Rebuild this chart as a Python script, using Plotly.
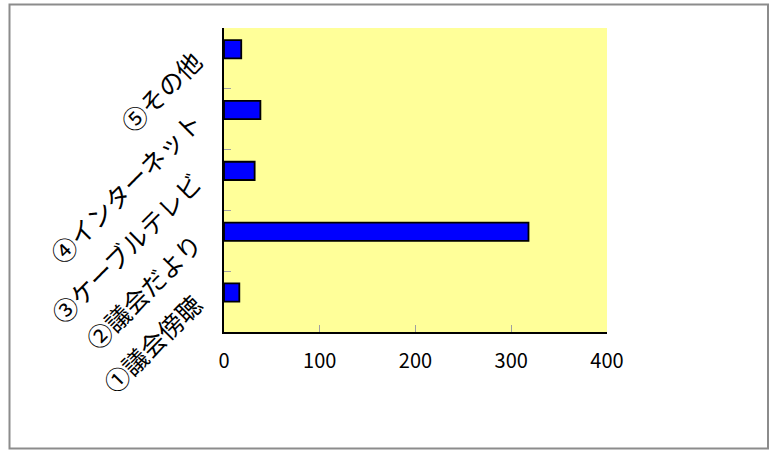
import plotly.graph_objects as go

categories = ["①議会傍聴", "②議会だより", "③ケーブルテレビ", "④インターネット", "⑤その他"]
values = [16, 318, 32, 38, 18]
x_ticks = [0, 100, 200, 300, 400]

fig = go.Figure()
fig.add_trace(go.Bar(
    y=categories, x=values, orientation="h",
    marker=dict(color="#0000FF", line=dict(color="#000000", width=1.8)),
    width=0.3, offset=0,
))

W, H = 770, 450
L, R, T, B = 224, 163, 28, 118
pw, ph = W - L - R, H - T - B

def px(x):
    return (x - L) / pw

def py(y):
    return (H - B - y) / ph

fig.update_layout(
    width=W, height=H,
    margin=dict(l=L, r=R, t=T, b=B, pad=0),
    plot_bgcolor="#FFFF99",
    paper_bgcolor="#FFFFFF",
    showlegend=False,
    font=dict(family="Noto Sans CJK JP", color="#000000", size=20),
    shapes=[dict(type="rect", xref="paper", yref="paper",
                 x0=px(9.5), x1=px(768), y0=py(448.5), y1=py(4.5),
                 line=dict(color="#8C8C8C", width=2), layer="below")],
)
fig.update_xaxes(
    range=[0, 400], tickvals=x_ticks, ticktext=[str(v) for v in x_ticks],
    showgrid=False, zeroline=False,
    showline=True, linecolor="#000000", linewidth=2,
    ticks="inside", ticklen=7, tickcolor="#A0A0A0", tickwidth=1,
    tickfont=dict(family="Noto Sans CJK JP", size=20),
    ticklabelstandoff=10,
)
fig.update_yaxes(
    categoryorder="array", categoryarray=categories,
    range=[-0.5, 4.5],
    showgrid=False, zeroline=False,
    showline=True, linecolor="#000000", linewidth=2,
    ticks="inside", tickson="boundaries", ticklen=7, tickcolor="#A0A0A0", tickwidth=1,
    tickangle=-45,
    tickfont=dict(family="Noto Sans CJK JP", size=25),
    ticklabelstandoff=22,
)

fig.write_html("out.html",
               config={"displayModeBar": False},
               post_script="document.body.style.margin='0';document.body.style.overflow='hidden';")
